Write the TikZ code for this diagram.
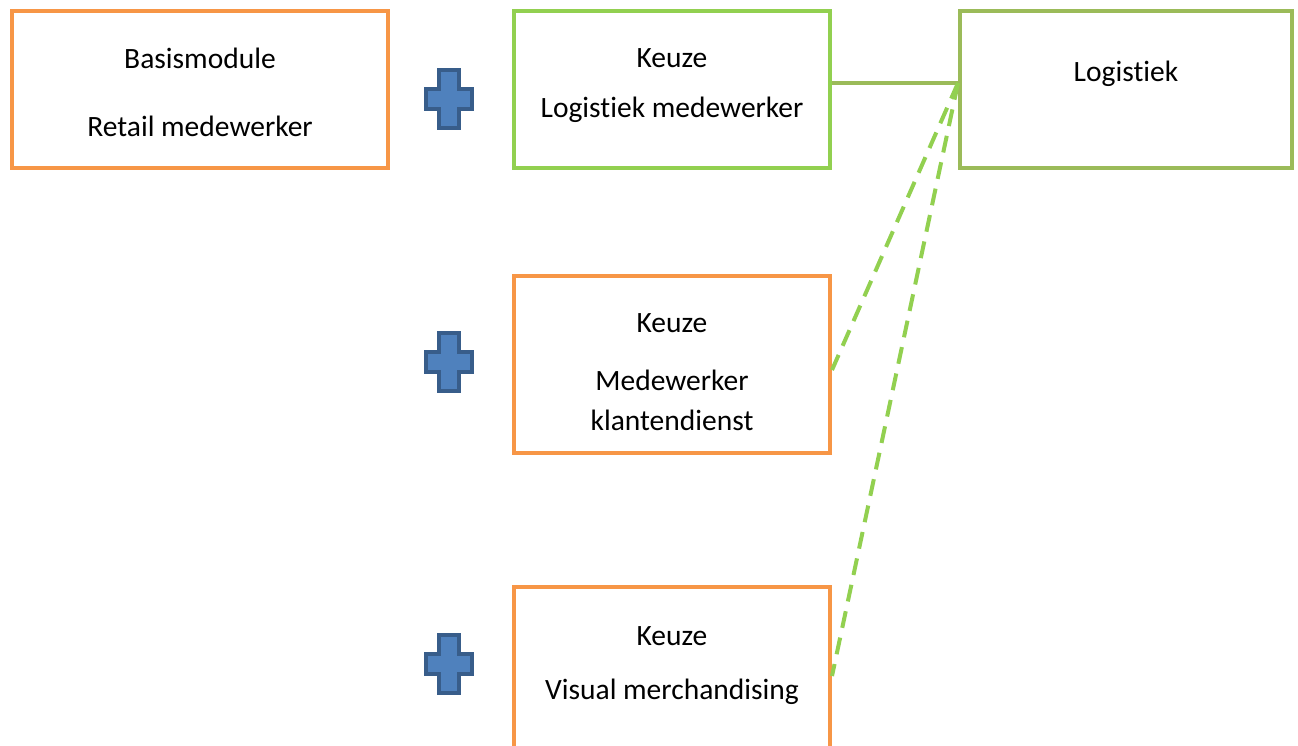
\documentclass[tikz,border=0pt]{standalone}
\usepackage{fontspec}
\setmainfont{Carlito}
\usetikzlibrary{calc}
\definecolor{borange}{HTML}{F79646}
\definecolor{bgreen}{HTML}{92D050}
\definecolor{bolive}{HTML}{9BBB59}
\definecolor{pfill}{HTML}{4F81BD}
\definecolor{pline}{HTML}{385D8A}
\newcommand{\tiword}{Logist\kern0pt iek}
\tikzset{
  x=1pt, y=-1pt,
  box/.style={draw, line width=4pt, minimum width=#1, inner sep=0pt, fill=white},
  lbl/.style={font=\fontsize{29.5}{34}\selectfont, inner sep=0pt, anchor=center},
  dashlink/.style={draw=bgreen, line width=4pt, dash pattern=on 17pt off 10pt},
  plussign/.pic={
    \filldraw[fill=pfill, draw=pline, line width=4pt, line join=miter]
      (-10,-29) -- (10,-29) -- (10,-10) -- (23,-10) -- (23,10) -- (10,10)
      -- (10,29) -- (-10,29) -- (-10,10) -- (-23,10) -- (-23,-10) -- (-10,-10) -- cycle;
  }
}
\begin{document}
\begin{tikzpicture}
\useasboundingbox (0,0) rectangle (1298,745);
% boxes
\node[box=376pt, draw=borange, minimum height=157pt] (basis) at (200,89.5) {};
\node[box=316pt, draw=bgreen, minimum height=157pt] (k1) at (672,89.5) {};
\node[box=332pt, draw=bolive, minimum height=157pt] (log) at (1126,89.5) {};
\node[box=316pt, draw=borange, minimum height=177pt] (k2) at (672,364.5) {};
\node[box=316pt, draw=borange, minimum height=170pt] (k3) at (672,672) {};
% texts
\node[lbl] (t1) at (200,58) {Basismodule};
\node[lbl] (t2) at (200,126) {Retail medewerker};
\node[lbl] (t3) at (672,58) {Keuze};
\node[lbl] (t4) at (672,110) {\tiword{} medewerker};
\node[lbl] (t5) at (1126,74) {\tiword};
\node[lbl] (t6) at (672,323) {Keuze};
\node[lbl] (t7) at (672,380) {Medewerker};
\node[lbl] (t8) at (672,420) {klantendienst};
\node[lbl] (t9) at (672,636) {Keuze};
\node[lbl] (t10) at (672,692) {Visual merchandising};
% plus signs
\pic at (449,99) {plussign};
\pic at (449,362) {plussign};
\pic at (449,664) {plussign};
% connectors
\coordinate (hub) at (log.west |- 0,83);
\draw[bolive, line width=4pt] (k1.east |- hub) -- (hub);
\draw[dashlink] (hub) -- ([yshift=-5.5pt]k2.east);
\draw[dashlink] (hub) -- ([yshift=-4pt]k3.east);
\end{tikzpicture}
\end{document}
